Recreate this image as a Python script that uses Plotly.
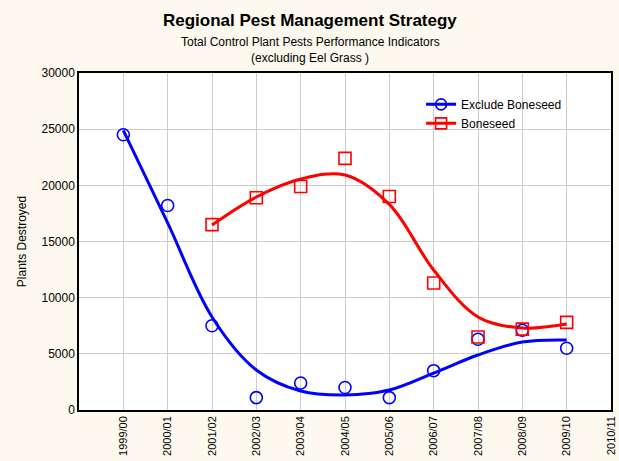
import plotly.graph_objects as go

seasons = ["1999/00", "2000/01", "2001/02", "2002/03", "2003/04", "2004/05",
           "2005/06", "2006/07", "2007/08", "2008/09", "2009/10", "2010/11"]

# observed points
exclude_idx = [0, 1, 2, 3, 4, 5, 6, 7, 8, 9, 10]
exclude_vals = [24500, 18200, 7500, 1100, 2400, 2000, 1100, 3500, 6300, 7100, 5500]
bone_idx = [2, 3, 4, 5, 6, 7, 8, 9, 10]
bone_vals = [16500, 18900, 19900, 22400, 19000, 11300, 6500, 7200, 7800]

# fitted (smoothed) curve values read at each season
exclude_fit = [24900, 16650, 8280, 3560, 1690, 1340, 1780, 3290, 4900, 6050, 6230]
bone_fit = [16470, 18960, 20560, 20920, 18300, 12460, 8280, 7300, 7650]

FONT = "Liberation Sans, Arial, sans-serif"
BLUE = "#0000FF"
RED = "#FF0000"

fig = go.Figure()
fig.add_trace(go.Scatter(x=exclude_idx, y=exclude_fit, mode="lines",
                         line=dict(color=BLUE, width=3, shape="spline", smoothing=1.0),
                         showlegend=False, hoverinfo="skip"))
fig.add_trace(go.Scatter(x=bone_idx, y=bone_fit, mode="lines",
                         line=dict(color=RED, width=3, shape="spline", smoothing=1.0),
                         showlegend=False, hoverinfo="skip"))
fig.add_trace(go.Scatter(x=exclude_idx, y=exclude_vals, mode="markers",
                         showlegend=False,
                         marker=dict(symbol="circle-open", size=12, color=BLUE,
                                     line=dict(width=1.6, color=BLUE))))
fig.add_trace(go.Scatter(x=bone_idx, y=bone_vals, mode="markers",
                         showlegend=False,
                         marker=dict(symbol="square-open", size=12, color=RED,
                                     line=dict(width=1.6, color=RED))))
# legend entries (line + marker symbol)
fig.add_trace(go.Scatter(x=[None], y=[None], mode="lines+markers", name="Exclude Boneseed",
                         line=dict(color=BLUE, width=3),
                         marker=dict(symbol="circle-open", size=11, color=BLUE,
                                     line=dict(width=1.6, color=BLUE))))
fig.add_trace(go.Scatter(x=[None], y=[None], mode="lines+markers", name="Boneseed",
                         line=dict(color=RED, width=3),
                         marker=dict(symbol="square-open", size=11, color=RED,
                                     line=dict(width=1.6, color=RED))))

fig.update_layout(
    width=619, height=461,
    paper_bgcolor="#FDF9EE", plot_bgcolor="white",
    margin=dict(l=79, r=8, t=73, b=51, autoexpand=False),
    font=dict(family=FONT, size=12, color="black"),
    legend=dict(x=0.643, y=0.95, xanchor="left", yanchor="top",
                bgcolor="rgba(0,0,0,0)", font=dict(size=12),
                tracegroupgap=0, itemwidth=30),
    showlegend=True,
    annotations=[
        dict(text="<b>Regional Pest Management Strategy</b>", x=0.5, y=20,
             xref="paper", yref="paper", showarrow=False,
             font=dict(size=17, family=FONT)),
        dict(text="Total Control Plant Pests Performance Indicators", x=0.5, y=20,
             xref="paper", yref="paper", showarrow=False, font=dict(size=12, family=FONT)),
        dict(text="(excluding Eel Grass )", x=0.5, y=20,
             xref="paper", yref="paper", showarrow=False, font=dict(size=12, family=FONT)),
    ],
)
# position title annotations in pixel terms via paper coords
plot_h = 461 - 73 - 51
for ann, py in zip(fig.layout.annotations, [20, 42, 58]):
    ann.y = (461 - 51 - py) / plot_h
    ann.yanchor = "middle"
    ann.x = (310 - 79) / (619 - 79 - 8)

fig.update_xaxes(range=[-1, 11], tickmode="array", tickvals=list(range(len(seasons))),
                 ticktext=seasons, tickangle=-90, tickfont=dict(size=11),
                 showgrid=True, gridcolor="#CCCCCC", gridwidth=1,
                 showline=True, linecolor="black", linewidth=1.5, mirror=True,
                 zeroline=False, automargin=False)
fig.update_yaxes(range=[0, 30000], tickvals=[0, 5000, 10000, 15000, 20000, 25000, 30000],
                 tickformat="d", title=dict(text="Plants Destroyed", font=dict(size=12), standoff=12),
                 showgrid=True, gridcolor="#CCCCCC", gridwidth=1,
                 showline=True, linecolor="black", linewidth=1.5, mirror=True,
                 zeroline=False, automargin=False)

fig.write_html("out.html", config={"displayModeBar": False},
               post_script="document.body.style.margin='0';document.body.style.overflow='hidden';")
